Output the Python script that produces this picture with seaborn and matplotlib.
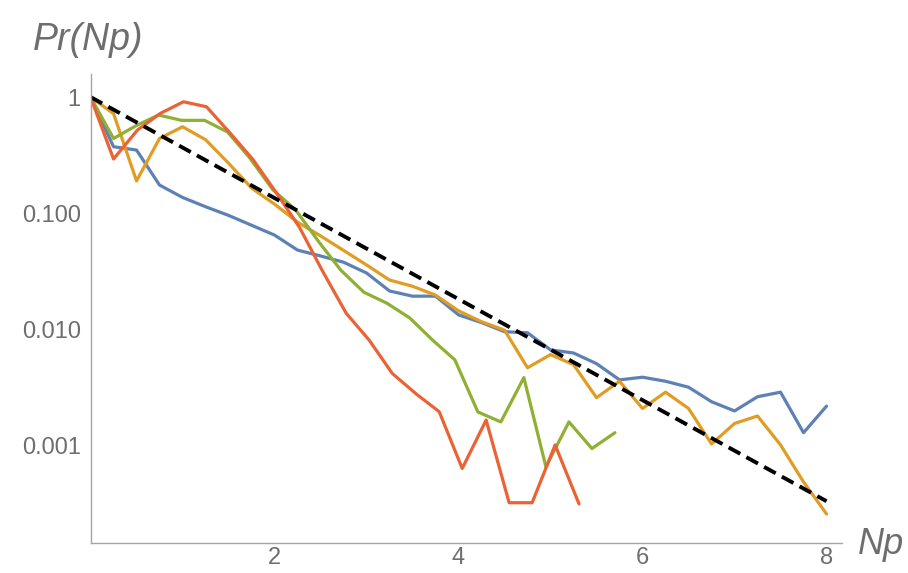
import numpy as np
import pandas as pd
import matplotlib
matplotlib.use("Agg")
import matplotlib.pyplot as plt
import seaborn as sns
from matplotlib.ticker import FixedLocator, FixedFormatter, LogLocator, NullFormatter

# x positions of the points (the series use slightly different steps)
x_grid = [0.0, 0.25, 0.5, 0.75, 1.0, 1.25, 1.5, 1.75, 2.0, 2.25, 2.5, 2.75,
          3.0, 3.25, 3.5, 3.75, 4.0, 4.25, 4.5, 4.75, 5.0, 5.25, 5.5, 5.75,
          6.0, 6.25, 6.5, 6.75, 7.0, 7.25, 7.5, 7.75, 8.0]
x_green = [0.0, 0.25, 0.50, 0.74, 0.99, 1.24, 1.49, 1.73, 1.98, 2.23, 2.48, 2.72,
           2.97, 3.22, 3.47, 3.72, 3.96, 4.21, 4.46, 4.71, 4.95, 5.20, 5.45, 5.70]
x_red = [0.0, 0.25, 0.51, 0.76, 1.01, 1.26, 1.52, 1.77, 2.02, 2.27, 2.53,
         2.78, 3.03, 3.28, 3.54, 3.79, 4.04, 4.30, 4.55, 4.80, 5.05, 5.31]

y_blue = [1.0, 0.374, 0.35, 0.175, 0.137, 0.114, 0.096, 0.079, 0.065, 0.0483,
          0.043, 0.038, 0.0307, 0.0215, 0.0194, 0.0194, 0.0134, 0.0115, 0.0096,
          0.0094, 0.0067, 0.0063, 0.0051, 0.0037, 0.0039, 0.0036, 0.0032,
          0.0024, 0.0020, 0.00265, 0.0029, 0.0013, 0.0022]
y_orange = [1.0, 0.72, 0.19, 0.44, 0.555, 0.43, 0.27, 0.165, 0.12, 0.084,
            0.064, 0.048, 0.036, 0.0267, 0.0236, 0.0198, 0.0145, 0.0117, 0.0099,
            0.0047, 0.0061, 0.0050, 0.0026, 0.0036, 0.0021, 0.0029, 0.0021,
            0.00104, 0.00156, 0.00181, 0.00102, 0.00049, 0.00026]
y_green = [1.0, 0.44, 0.57, 0.70, 0.63, 0.63, 0.50, 0.30, 0.16, 0.107, 0.057,
           0.0325, 0.021, 0.0169, 0.0126, 0.0081, 0.0055, 0.00196, 0.00161,
           0.00387, 0.00066, 0.00161, 0.00095, 0.0013]
y_red = [1.0, 0.293, 0.52, 0.724, 0.91, 0.825, 0.487, 0.287, 0.15, 0.076,
         0.031, 0.0138, 0.0081, 0.0042, 0.0028, 0.00197, 0.00064, 0.00167,
         0.000325, 0.000325, 0.00102, 0.000317]

# reference line, exp(-Np), straight on the log axis
ref_x = [0.0, 8.0]
ref_y = [1.0, 3.35e-4]

series_names = ["s1", "s2", "s3", "s4"]
colors = ["#5E81B5", "#E19C24", "#8FB032", "#EB6235"]

y_ticks = [1, 0.1, 0.01, 0.001]
y_ticklabels = ["1", "0.100", "0.010", "0.001"]
x_ticks = [2, 4, 6, 8]

frames = []
for name, xs, ys in zip(series_names,
                        [x_grid, x_grid, x_green, x_red],
                        [y_blue, y_orange, y_green, y_red]):
    frames.append(pd.DataFrame({"x": xs, "y": ys, "series": name}))
df = pd.concat(frames, ignore_index=True)

sns.set_style("white")
plt.rcParams["font.family"] = ["Liberation Sans", "DejaVu Sans"]

gray_axis = "#A6A6A6"
gray_text = "#6E6E6E"

fig = plt.figure(figsize=(9.08, 5.73), dpi=100)
ax = fig.add_axes([0.0997, 0.0515, 0.8273, 0.8195])

sns.lineplot(data=df, x="x", y="y", hue="series", hue_order=series_names,
             palette=colors, linewidth=2.3, legend=False, sort=False,
             estimator=None, ax=ax)
ax.plot(ref_x, ref_y, color="black", linestyle=(0, (3.4, 1.8)), linewidth=2.8)

ax.set_yscale("log")
ax.set_xlim(0, 8.165)
ax.set_ylim(1.45e-4, 1.58)

ax.xaxis.set_major_locator(FixedLocator(x_ticks))
ax.xaxis.set_minor_locator(FixedLocator(np.arange(0.5, 8.01, 0.5)))
ax.yaxis.set_major_locator(FixedLocator(y_ticks))
ax.yaxis.set_major_formatter(FixedFormatter(y_ticklabels))
ax.yaxis.set_minor_locator(LogLocator(base=10, subs=np.arange(2, 10)))
ax.yaxis.set_minor_formatter(NullFormatter())

for side in ["top", "right"]:
    ax.spines[side].set_visible(False)
for side in ["left", "bottom"]:
    ax.spines[side].set_color(gray_axis)
    ax.spines[side].set_linewidth(1.0)

ax.tick_params(which="major", direction="in", length=6.5, width=1.0,
               color=gray_axis, labelcolor=gray_text, labelsize=17)
ax.tick_params(axis="y", which="major", pad=7)
ax.tick_params(axis="x", which="major", pad=2.5)
ax.tick_params(which="minor", direction="in", length=3.8, width=0.9,
               color=gray_axis)
ax.set_xlabel("")
ax.set_ylabel("")

fig.text(33 / 908, 1 - 40 / 573, "Pr(Np)", fontsize=27, style="italic",
         color=gray_text, ha="left", va="center")
fig.text(904 / 908, 1 - 545 / 573, "Np", fontsize=26, style="italic",
         color=gray_text, ha="right", va="center")

fig.savefig("out.png", dpi=100)
